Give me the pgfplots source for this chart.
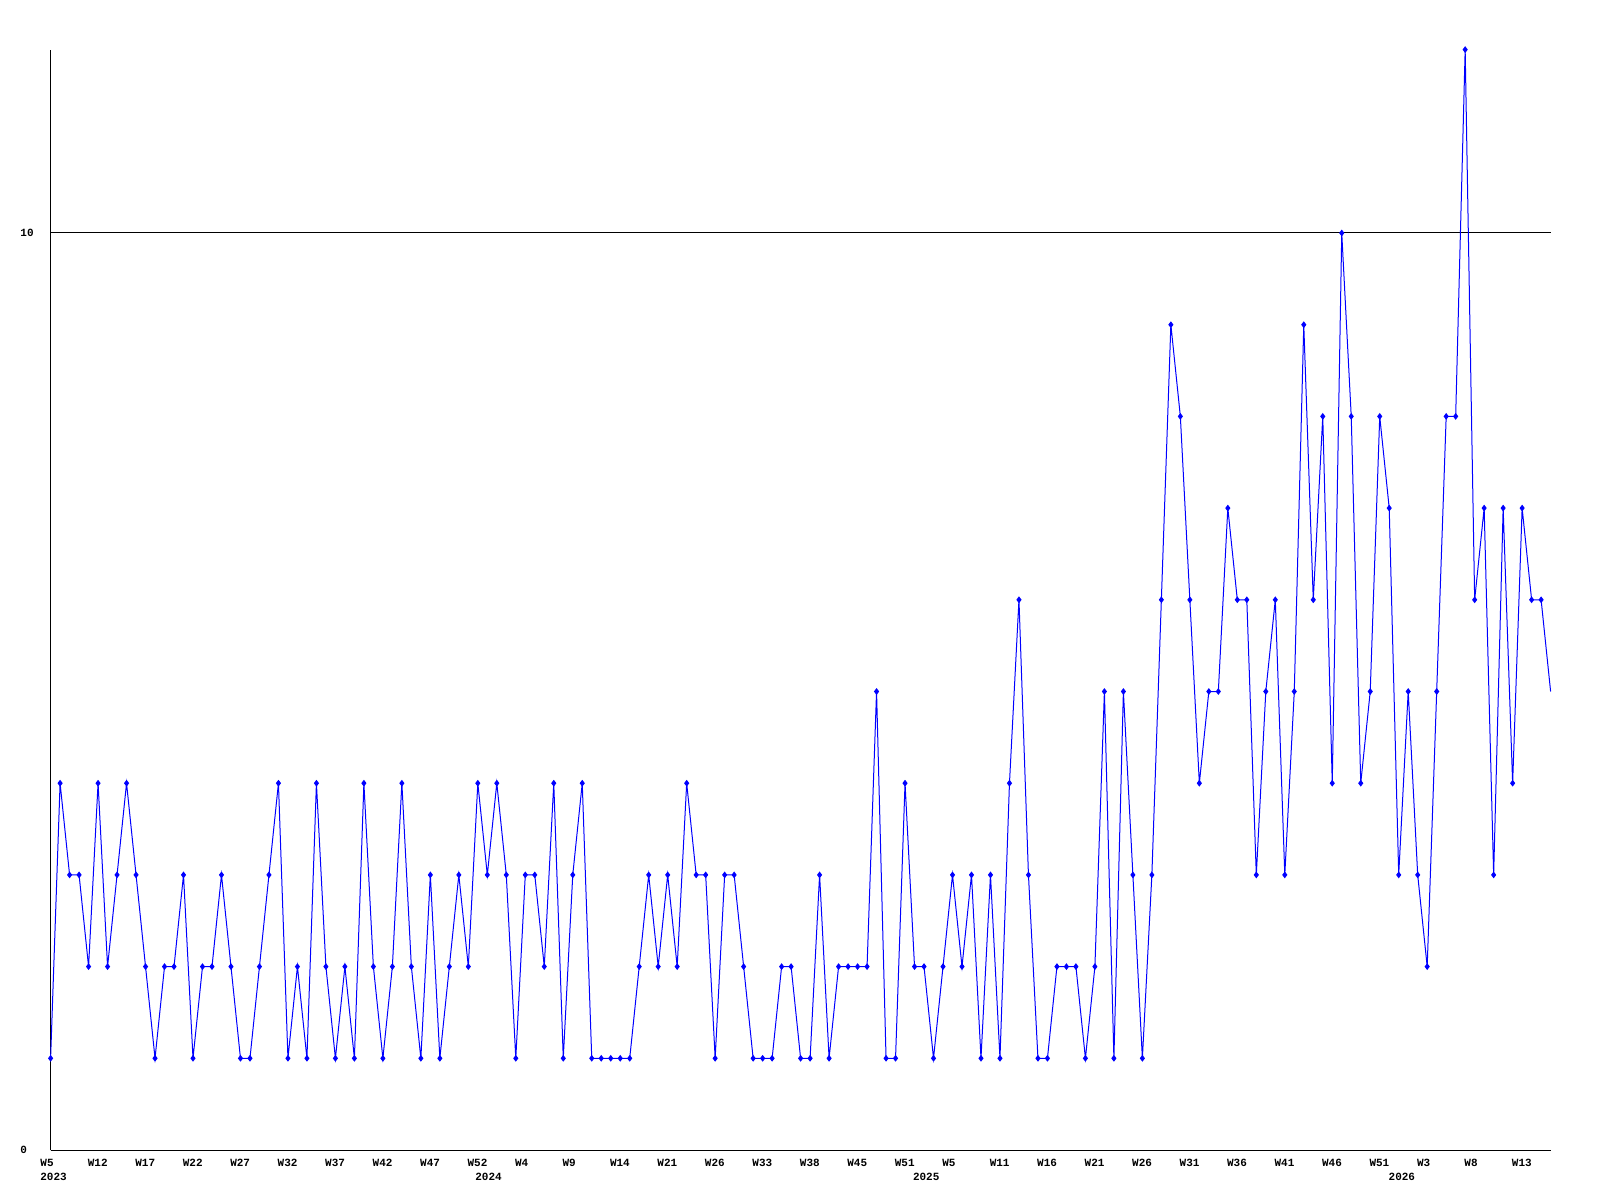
\documentclass[border=0pt]{standalone}
\usepackage{fontspec}
\setmainfont{Liberation Mono}
\usepackage{pgfplots}
\usepackage{pgfplotstable}
\pgfplotsset{compat=1.18}

% weekly counts, one row per week (index 0 = first week shown)
\pgfplotstableread{
i v
0 1
1 4
2 3
3 3
4 2
5 4
6 2
7 3
8 4
9 3
10 2
11 1
12 2
13 2
14 3
15 1
16 2
17 2
18 3
19 2
20 1
21 1
22 2
23 3
24 4
25 1
26 2
27 1
28 4
29 2
30 1
31 2
32 1
33 4
34 2
35 1
36 2
37 4
38 2
39 1
40 3
41 1
42 2
43 3
44 2
45 4
46 3
47 4
48 3
49 1
50 3
51 3
52 2
53 4
54 1
55 3
56 4
57 1
58 1
59 1
60 1
61 1
62 2
63 3
64 2
65 3
66 2
67 4
68 3
69 3
70 1
71 3
72 3
73 2
74 1
75 1
76 1
77 2
78 2
79 1
80 1
81 3
82 1
83 2
84 2
85 2
86 2
87 5
88 1
89 1
90 4
91 2
92 2
93 1
94 2
95 3
96 2
97 3
98 1
99 3
100 1
101 4
102 6
103 3
104 1
105 1
106 2
107 2
108 2
109 1
110 2
111 5
112 1
113 5
114 3
115 1
116 3
117 6
118 9
119 8
120 6
121 4
122 5
123 5
124 7
125 6
126 6
127 3
128 5
129 6
130 3
131 5
132 9
133 6
134 8
135 4
136 10
137 8
138 4
139 5
140 8
141 7
142 3
143 5
144 3
145 2
146 5
147 8
148 8
149 12
150 6
151 7
152 3
153 7
154 4
155 7
156 6
157 6
158 5
}\weekly

\begin{document}
\begin{tikzpicture}
\useasboundingbox (0,0) rectangle (800pt,600pt);
\begin{axis}[
    scale only axis,
    width=750pt, height=550.2pt,
    at={(25.3pt,25pt)}, anchor=south west,
    xmin=0, xmax=158, ymin=0, ymax=12,
    axis lines*=left,
    axis line style={black, line width=0.5pt},
    major tick length=0pt,
    ytick={0,10},
    ymajorgrids,
    major grid style={black, line width=0.5pt},
    yticklabel={\pgfmathprintnumber[assume math mode=true]{\tick}},
    yticklabel style={anchor=west, inner sep=0pt, xshift=-15.3pt,
        font=\fontsize{5.5}{6}\selectfont\bfseries},
    xtick={0,5,...,155},
    xticklabels={W5,W12,W17,W22,W27,W32,W37,W42,W47,W52,W4,W9,W14,W21,W26,W33,
        W38,W45,W51,W5,W11,W16,W21,W26,W31,W36,W41,W46,W51,W3,W8,W13},
    xticklabel style={anchor=north west, inner sep=0pt, xshift=-5.3pt, yshift=-4.5pt,
        font=\fontsize{5.5}{6}\selectfont\bfseries},
    clip=false,
]
\addplot[color={rgb,255:red,0;green,0;blue,255}, line width=0.5pt,
    mark=diamond*, mark size=1.3pt, mark indices={1,...,158}]
    table[x=i, y=v] {\weekly};
\foreach \yr/\pos in {2023/-1.12, 2024/44.7, 2025/90.8, 2026/140.9} {
    \edef\tmp{\noexpand\node[anchor=north west, inner sep=0pt, yshift=-11.5pt,
        font=\noexpand\fontsize{5.5}{6}\noexpand\selectfont\noexpand\bfseries]
        at (axis cs:\pos,0) {\yr};}
    \tmp
}
\end{axis}
\end{tikzpicture}
\end{document}
